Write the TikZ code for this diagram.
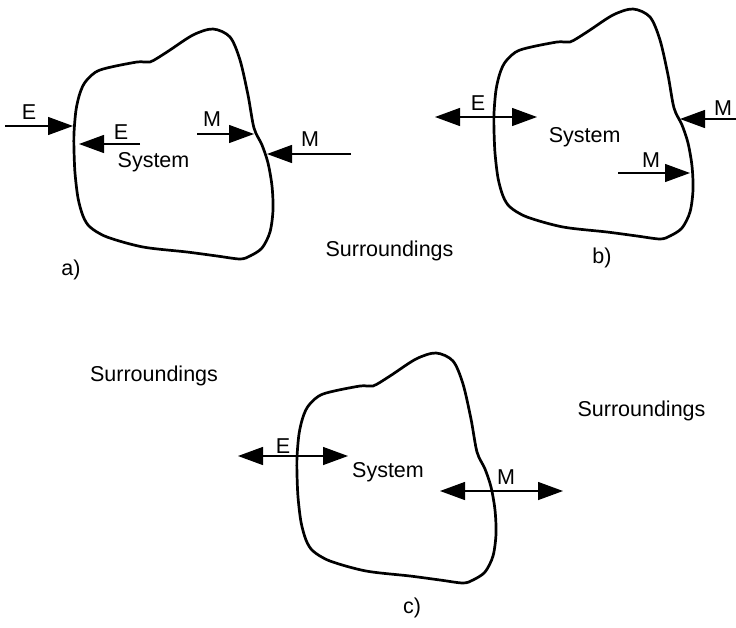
\documentclass[tikz,border=0pt]{standalone}
\usepackage{fontspec}
\setmainfont{Liberation Sans}
\usetikzlibrary{arrows.meta}
\begin{document}
\begin{tikzpicture}[x=1pt,y=-1pt,
  flow/.style={line width=1.3pt,-{Triangle[length=25pt,width=18pt]}},
  flowboth/.style={line width=1.3pt,{Triangle[length=25pt,width=18pt]}-{Triangle[length=25pt,width=18pt]}},
  blob/.style={line width=2.7pt,line join=round},
  lbl/.style={font=\fontsize{21.5}{25}\selectfont,inner sep=0pt,anchor=base}]
\useasboundingbox (0,0) rectangle (736,627);
\def\myblob{plot[smooth cycle,tension=0.5] coordinates {
 (86,81) (100,70) (137,62) (150,62) (167,52) (193,35) (213,29)
 (230,37) (240,60) (248,95) (254,128) (262,145) (268,163) (272,186) (273,210)
 (270,232) (262,248) (250,256) (240,259) (217,256) (187,252)
 (143,247) (107,237) (90,227) (83,216) (78,198) (75,173) (74,150)
 (74,133) (76,110) (80,93)}}

% ---------- a) ----------
\draw[blob] \myblob;
\coordinate (aE1s) at (5,126);   \coordinate (aE1t) at (73,126);
\coordinate (aE2s) at (140,144); \coordinate (aE2t) at (79,144);
\coordinate (aM1s) at (197,134); \coordinate (aM1t) at (254,134);
\coordinate (aM2s) at (351,154); \coordinate (aM2t) at (267,154);
\draw[flow] (aE1s) -- (aE1t);
\draw[flow] (aE2s) -- (aE2t);
\draw[flow] (aM1s) -- (aM1t);
\draw[flow] (aM2s) -- (aM2t);
\node[lbl] (aE1) at (29,119) {E};
\node[lbl] (aE2) at (121,139) {E};
\node[lbl] (aSys) at (153.5,167) {System};
\node[lbl] (aM1) at (212,126) {M};
\node[lbl] (aM2) at (310,146) {M};
\node[lbl] (alab) at (71,275) {a)};
\node[lbl] (sur1) at (389.5,256) {Surroundings};

% ---------- b) ----------
\begin{scope}[shift={(420,-20)}]
\draw[blob] \myblob;
\end{scope}
\coordinate (bEs) at (435,117);  \coordinate (bEt) at (537,117);
\coordinate (bM1s) at (736,119); \coordinate (bM1t) at (680,119);
\coordinate (bM2s) at (618,173); \coordinate (bM2t) at (690,173);
\draw[flowboth] (bEs) -- (bEt);
\draw[flow] (bM1s) -- (bM1t);
\draw[flow] (bM2s) -- (bM2t);
\node[lbl] (bE) at (478,110) {E};
\node[lbl] (bM1) at (723,115) {M};
\node[lbl] (bSys) at (584.7,142) {System};
\node[lbl] (bM2) at (651,167) {M};
\node[lbl] (blab) at (602,263) {b)};

% ---------- c) ----------
\begin{scope}[shift={(223,324)}]
\draw[blob] \myblob;
\end{scope}
\coordinate (cEs) at (238,456); \coordinate (cEt) at (348,456);
\coordinate (cMs) at (440,491); \coordinate (cMt) at (563,491);
\draw[flowboth] (cEs) -- (cEt);
\draw[flowboth] (cMs) -- (cMt);
\node[lbl] (cE) at (283,453) {E};
\node[lbl] (cSys) at (388,477) {System};
\node[lbl] (cM) at (506,484) {M};
\node[lbl] (clab) at (412,613) {c)};
\node[lbl] (sur2) at (154,381) {Surroundings};
\node[lbl] (sur3) at (641.5,416) {Surroundings};
\end{tikzpicture}
\end{document}
